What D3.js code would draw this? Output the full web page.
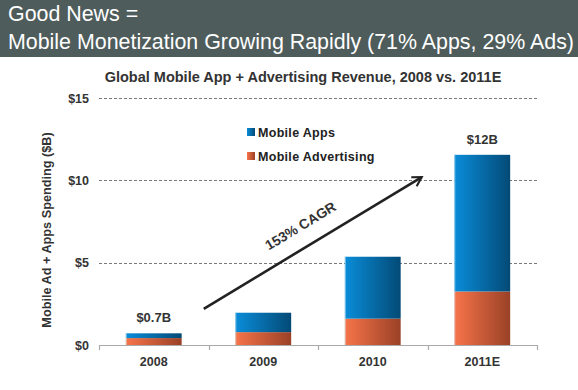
<!DOCTYPE html>
<html><head><meta charset="utf-8">
<script src="https://cdn.jsdelivr.net/npm/d3@7"></script>
<style>
html,body{margin:0;padding:0;background:#fff;}
svg{display:block;font-family:"Liberation Sans",Arial,sans-serif;}
</style></head>
<body><svg id="c" width="578" height="390"></svg>
<script>
const categories = ["2008", "2009", "2010", "2011E"];
const adValues = [0.42, 0.78, 1.6, 3.25];
const appValues = [0.29, 1.18, 3.76, 8.3];
const totalLabels = ["$0.7B", "", "", "$12B"];
const yTicks = [0, 5, 10, 15];
const yTickLabels = ["$0", "$5", "$10", "$15"];
const seriesNames = ["Mobile Apps", "Mobile Advertising"];
const headerLines = ["Good News =", "Mobile Monetization Growing Rapidly (71% Apps, 29% Ads)"];
const chartTitle = "Global Mobile App + Advertising Revenue, 2008 vs. 2011E";
const yAxisTitle = "Mobile Ad + Apps Spending ($B)";
const cagrLabel = "153% CAGR";

(function(){
const svg = d3.select("#c");
const defs = svg.append("defs");
function grad(id, c1, c2){
  const g = defs.append("linearGradient").attr("id", id).attr("x1","0").attr("x2","1").attr("y1","0").attr("y2","0");
  g.append("stop").attr("offset","0").attr("stop-color",c1);
  g.append("stop").attr("offset","1").attr("stop-color",c2);
}
grad("gBlue", "#0a8dd9", "#034a76");
grad("gOrange", "#f7744a", "#9a4126");
const mk = defs.append("marker").attr("id","arr").attr("viewBox","0 0 10 10").attr("refX",8).attr("refY",5)
  .attr("markerWidth",5).attr("markerHeight",5).attr("orient","auto").attr("markerUnits","strokeWidth");
mk.append("path").attr("d","M1,1 L8,5 L1,9").attr("fill","none").attr("stroke","#222").attr("stroke-width",1.6);

// header
svg.append("rect").attr("x",0).attr("y",0).attr("width",578).attr("height",57).attr("fill","#4e5c5b");
svg.selectAll("text.hdr").data(headerLines).join("text").attr("class","hdr")
  .attr("x",8).attr("y",(d,i)=>21+i*28).attr("fill","#fff").attr("font-size",21.4).text(d=>d);

const pL = 99, pR = 537, pT = 98, pB = 345;
const x = d3.scaleBand().domain(categories).range([pL, pR]).paddingInner(0.49).paddingOuter(0.245);
const y = d3.scaleLinear().domain([0, 15]).range([pB, pT]);

// title
svg.append("text").attr("x",303).attr("y",82).attr("text-anchor","middle")
  .attr("font-weight","bold").attr("font-size",14.5).attr("fill","#333").text(chartTitle);

// gridlines
svg.append("g").selectAll("line").data(yTicks.filter(d=>d>0)).join("line")
  .attr("x1",pL).attr("x2",pR).attr("y1",d=>Math.round(y(d))+0.5).attr("y2",d=>Math.round(y(d))+0.5)
  .attr("stroke","#555").attr("stroke-width",0.8).attr("stroke-dasharray","3,2");

// y tick labels
svg.append("g").selectAll("text").data(yTicks).join("text")
  .attr("x",89).attr("y",d=>y(d)+4.5).attr("text-anchor","end").attr("font-weight","bold")
  .attr("font-size",12.5).attr("fill","#333").text((d,i)=>yTickLabels[i]);

// y axis title
svg.append("text").attr("transform",`translate(51,230) rotate(-90)`).attr("text-anchor","middle")
  .attr("font-weight","bold").attr("font-size",12.7).attr("fill","#333").text(yAxisTitle);

// bars
const stackData = categories.map((c,i)=>({cat:c, ad:adValues[i], app:appValues[i]}));
const stack = d3.stack().keys(["ad","app"])(stackData);
const fills = {ad:"url(#gOrange)", app:"url(#gBlue)"};
svg.append("g").selectAll("g").data(stack).join("g").attr("fill",s=>fills[s.key])
  .selectAll("rect").data(s=>s).join("rect")
  .attr("x",d=>x(d.data.cat)).attr("width",x.bandwidth())
  .attr("y",d=>y(d[1])).attr("height",d=>y(d[0])-y(d[1]));
// left highlight
svg.append("g").selectAll("line").data(stackData).join("line")
  .attr("x1",d=>x(d.cat)+0.5).attr("x2",d=>x(d.cat)+0.5)
  .attr("y1",d=>y(d.ad+d.app)).attr("y2",pB)
  .attr("stroke","#cfe8f2").attr("stroke-width",1).attr("opacity",0.6);

// x axis
const ax = svg.append("g");
ax.append("line").attr("x1",pL).attr("x2",pR).attr("y1",pB+0.5).attr("y2",pB+0.5).attr("stroke","#aaa").attr("stroke-width",1.2);
const bounds = d3.range(categories.length+1).map(i=>pL + i*(pR-pL)/categories.length);
ax.selectAll("line.tk").data(bounds).join("line").attr("class","tk")
  .attr("x1",d=>Math.round(d)+0.5).attr("x2",d=>Math.round(d)+0.5).attr("y1",pB).attr("y2",pB+5)
  .attr("stroke","#aaa").attr("stroke-width",1.2);
ax.selectAll("text").data(categories).join("text")
  .attr("x",d=>x(d)+x.bandwidth()/2).attr("y",366).attr("text-anchor","middle")
  .attr("font-weight","bold").attr("font-size",12.5).attr("fill","#333").text(d=>d);

// total labels
svg.append("g").selectAll("text").data(stackData).join("text")
  .attr("x",d=>x(d.cat)+x.bandwidth()/2).attr("y",d=>y(d.ad+d.app)-11).attr("text-anchor","middle")
  .attr("font-weight","bold").attr("font-size",13).attr("fill","#333").text((d,i)=>totalLabels[i]);

// legend
const lg = svg.append("g").attr("transform","translate(247,128)");
const legFills = ["url(#gBlue)","url(#gOrange)"];
seriesNames.forEach((n,i)=>{
  lg.append("rect").attr("x",0).attr("y",i*24).attr("width",8).attr("height",8).attr("fill",legFills[i]);
  lg.append("text").attr("x",11).attr("y",i*24+9).attr("font-weight","bold").attr("font-size",12.5)
    .attr("fill","#222").attr("letter-spacing",0.3).text(n);
});

// CAGR arrow
const x0 = x("2008")+x.bandwidth()/2 + 50, v0 = 2.2;
const x1 = x("2010")+x.bandwidth()/2 + 49, v1 = 10.2;
svg.append("line").attr("x1",x0).attr("y1",y(v0)).attr("x2",x1).attr("y2",y(v1))
  .attr("stroke","#222").attr("stroke-width",2.6).attr("marker-end","url(#arr)");
const ang = Math.atan2(y(v1)-y(v0), x1-x0)*180/Math.PI;
svg.append("text").attr("transform",`translate(303,230) rotate(${ang})`).attr("text-anchor","middle")
  .attr("font-weight","bold").attr("font-size",13.8).attr("fill","#333").text(cagrLabel);
})();
</script></body></html>
